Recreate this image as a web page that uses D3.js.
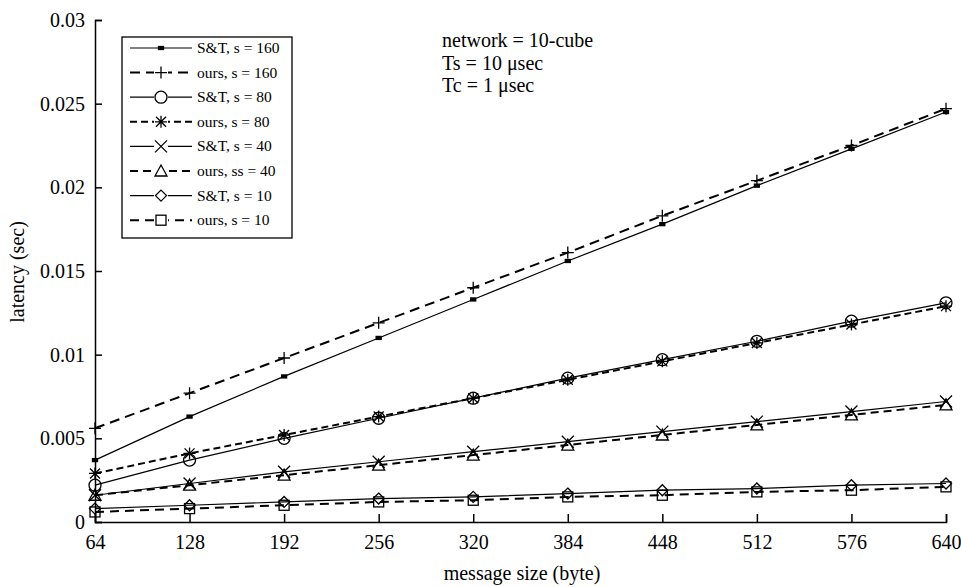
<!DOCTYPE html>
<html>
<head>
<meta charset="utf-8">
<style>
  body { margin: 0; background: #fff; }
  text { font-family: "Liberation Serif", "DejaVu Serif", serif; fill: #000; }
</style>
<script src="https://cdn.jsdelivr.net/npm/d3@7"></script>
</head>
<body>
<script>
var sizes = [64, 128, 192, 256, 320, 384, 448, 512, 576, 640];
var yTicks = [0, 0.005, 0.01, 0.015, 0.02, 0.025, 0.03];

var st160 = [0.0037, 0.0063, 0.0087, 0.0110, 0.0133, 0.0156, 0.0178, 0.0201, 0.0223, 0.0245];
var ours160 = [0.0056, 0.0077, 0.0098, 0.0119, 0.0140, 0.0161, 0.0183, 0.0204, 0.0225, 0.0247];
var st80 = [0.0022, 0.0037, 0.0050, 0.0062, 0.0074, 0.0086, 0.0097, 0.0108, 0.0120, 0.0131];
var ours80 = [0.0029, 0.0041, 0.0052, 0.0063, 0.0074, 0.0085, 0.0096, 0.0107, 0.0118, 0.0129];
var st40 = [0.0016, 0.0023, 0.0030, 0.0036, 0.0042, 0.0048, 0.0054, 0.0060, 0.0066, 0.0072];
var ours40 = [0.0016, 0.0022, 0.0028, 0.0034, 0.0040, 0.0046, 0.0052, 0.0058, 0.0064, 0.0070];
var st10 = [0.0008, 0.0010, 0.0012, 0.0014, 0.0015, 0.0017, 0.0019, 0.0020, 0.0022, 0.0023];
var ours10 = [0.0006, 0.0008, 0.0010, 0.0012, 0.0013, 0.0015, 0.0016, 0.0018, 0.0019, 0.0021];

var names = ["S&T, s = 160", "ours, s = 160", "S&T, s = 80", "ours, s = 80",
             "S&T, s = 40", "ours, ss = 40", "S&T, s = 10", "ours, s = 10"];
var notes = ["network = 10-cube", "Ts = 10 \u03bcsec", "Tc = 1 \u03bcsec"];

var series = [
  {name: names[0], vals: st160, dash: null, w: 1.2, mark: "dot"},
  {name: names[1], vals: ours160, dash: "10,6", w: 2, mark: "plus"},
  {name: names[2], vals: st80, dash: null, w: 1.2, mark: "circle"},
  {name: names[3], vals: ours80, dash: "7,4", w: 2, mark: "star"},
  {name: names[4], vals: st40, dash: null, w: 1.2, mark: "cross"},
  {name: names[5], vals: ours40, dash: "8,5", w: 2, mark: "tri"},
  {name: names[6], vals: st10, dash: null, w: 1.2, mark: "diamond"},
  {name: names[7], vals: ours10, dash: "9,6", w: 2, mark: "square"}
];

var W = 961, H = 587;
var m = {left: 95, right: 15, top: 20, bottom: 65};

var svg = d3.select("body").append("svg")
    .attr("width", W).attr("height", H);

var x = d3.scaleLinear().domain([64, 640]).range([m.left, W - m.right]);
var y = d3.scaleLinear().domain([0, 0.03]).range([H - m.bottom, m.top]);

// axes, ticks point inward
var xAxis = d3.axisBottom(x).tickValues(sizes).tickSize(-8).tickPadding(13).tickFormat(d3.format("d"));
var yAxis = d3.axisLeft(y).tickValues(yTicks).tickSize(-7).tickPadding(10)
    .tickFormat(function(d) { return d === 0 ? "0" : String(+d.toFixed(3)); });

var gx = svg.append("g").attr("transform", "translate(0," + (H - m.bottom) + ")").call(xAxis);
var gy = svg.append("g").attr("transform", "translate(" + m.left + ",0)").call(yAxis);
[gx, gy].forEach(function(g) {
  g.select(".domain").attr("stroke", "#000").attr("stroke-width", 1.5);
  g.selectAll(".tick line").attr("stroke", "#000").attr("stroke-width", 1.5);
  g.selectAll(".tick text").style("font-family", "Liberation Serif").style("font-size", "20px").attr("fill", "#000");
});

svg.append("text").attr("x", 522).attr("y", 580).attr("text-anchor", "middle")
  .style("font-size", "20px").text("message size (byte)");
svg.append("text").attr("transform", "translate(24,272) rotate(-90)").attr("text-anchor", "middle")
  .style("font-size", "20px").text("latency (sec)");

// annotation
svg.selectAll(".note").data(notes).enter().append("text")
  .attr("x", 442).attr("y", function(d, i) { return 47 + i * 22.5; })
  .style("font-size", "20px").text(function(d) { return d; });

function drawMark(g, type) {
  var s = 5;
  if (type === "dot") {
    g.append("rect").attr("x", -2.5).attr("y", -1.5).attr("width", 5).attr("height", 3).attr("fill", "#000");
  } else if (type === "plus") {
    g.append("path").attr("d", "M-6,0H6M0,-6V6");
  } else if (type === "circle") {
    g.append("circle").attr("r", 6).attr("fill", "none");
  } else if (type === "star") {
    g.append("path").attr("d", "M-6,0H6M0,-6V6M-5,-5L5,5M-5,5L5,-5");
  } else if (type === "cross") {
    g.append("path").attr("d", "M-6,-6L6,6M-6,6L6,-6");
  } else if (type === "tri") {
    g.append("path").attr("d", "M0,-6L6,5H-6Z").attr("fill", "none");
  } else if (type === "diamond") {
    g.append("path").attr("d", "M0,-5.5L5.5,0L0,5.5L-5.5,0Z").attr("fill", "none");
  } else if (type === "square") {
    g.append("rect").attr("x", -s).attr("y", -s).attr("width", 2 * s).attr("height", 2 * s).attr("fill", "none");
  }
  g.selectAll("path, circle, rect").attr("stroke", "#000").attr("stroke-width", 1.3);
}

var line = d3.line().x(function(d, i) { return x(sizes[i]); }).y(function(d) { return y(d); });

series.forEach(function(s) {
  svg.append("path").datum(s.vals).attr("d", line)
    .attr("fill", "none").attr("stroke", "#000")
    .attr("stroke-width", s.w).attr("stroke-dasharray", s.dash);
  s.vals.forEach(function(v, i) {
    var g = svg.append("g").attr("transform", "translate(" + x(sizes[i]) + "," + y(v) + ")");
    drawMark(g, s.mark);
  });
});

// legend
var lg = svg.append("g").attr("transform", "translate(122,37)");
lg.append("rect").attr("width", 170).attr("height", 201)
  .attr("fill", "#fff").attr("stroke", "#000").attr("stroke-width", 1.3);
series.forEach(function(s, i) {
  var yy = 11 + i * 24.6;
  lg.append("line").attr("x1", 8).attr("x2", 70).attr("y1", yy).attr("y2", yy)
    .attr("stroke", "#000").attr("stroke-width", s.w).attr("stroke-dasharray", s.dash);
  var g = lg.append("g").attr("transform", "translate(39," + yy + ")");
  if (s.mark !== "dot") {
    g.append("rect").attr("x", -7).attr("y", -7).attr("width", 14).attr("height", 14).attr("fill", "#fff");
  }
  drawMark(g, s.mark);
  if (s.mark !== "dot") g.select("rect").attr("stroke", "none");
  lg.append("text").attr("x", 75).attr("y", yy + 5).style("font-size", "15.5px").text(s.name);
});
</script>
</body>
</html>
